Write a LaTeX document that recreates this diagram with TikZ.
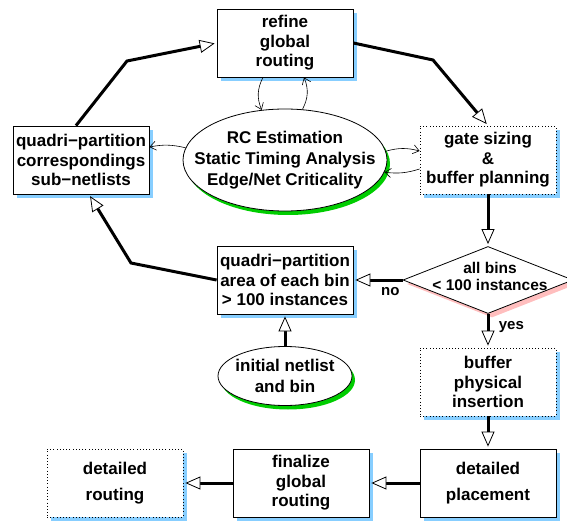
\documentclass[tikz,border=0pt]{standalone}
\usepackage{fontspec}
\setmainfont{Liberation Sans}
\usetikzlibrary{arrows.meta,shapes.geometric,shadows}

\definecolor{shadowblue}{RGB}{135,206,255}
\definecolor{shadowgreen}{RGB}{0,205,0}
\definecolor{shadowpink}{RGB}{255,190,190}

\begin{document}
\begin{tikzpicture}[x=1pt, y=1pt, node distance=117pt,
    box/.style={draw, line width=0.8pt, fill=white, align=center, inner sep=2pt,
        minimum width=136pt, minimum height=68pt,
        font=\fontsize{17}{19.5}\selectfont\bfseries,
        general shadow={fill=shadowblue, shadow xshift=4pt, shadow yshift=-4pt}},
    dotbox/.style={box, dash pattern=on 0.8pt off 2.4pt},
    oval/.style={ellipse, draw, line width=0.8pt, fill=white, align=center, inner sep=0pt,
        font=\fontsize{17}{21}\selectfont\bfseries,
        general shadow={fill=shadowgreen, shadow xshift=3pt, shadow yshift=-4pt}},
    test/.style={diamond, draw, line width=0.8pt, fill=white, inner sep=0pt,
        minimum width=170pt, minimum height=67pt,
        general shadow={fill=shadowpink, shadow xshift=4pt, shadow yshift=-4pt}},
    flow/.style={line width=3pt, shorten >=2pt,
        -{Triangle[fill=white, line width=0.8pt, length=15pt, width=13pt]}},
    link/.style={line width=0.6pt, -{Straight Barb[length=6pt, width=9pt]}},
    answer/.style={font=\fontsize{15}{17}\selectfont\bfseries}]

    \useasboundingbox (0,0) rectangle (567,-521);

    % Nodes {refine, est, corresp, gate, test, area, initial, buffer, placement, finalize, routing}
    \node [box]             (refine)    at (285,-43)    {refine\\global\\routing};
    \node [oval, minimum width=204pt, minimum height=102pt, inner xsep=-30pt]
                            (est)       [below of=refine, node distance=117pt]
                            {RC Estimation\\Static Timing Analysis\\Edge/Net Criticality};
    \node [box]             (corresp)   [left of=est, node distance=204pt]
                            {quadri−partition\\correspondings\\sub−netlists};
    \node [dotbox]          (gate)      [right of=est, node distance=203pt]
                            {gate sizing\\\&\\buffer planning};
    \node [test]            (test)      [below of=gate, node distance=120pt] {};
    \node [font=\fontsize{15.5}{17}\selectfont\bfseries, align=center]
                            (testtext)  at ([xshift=2pt, yshift=4pt]test.center)
                            {all bins\\< 100 instances};
    \node [box]             (area)      [below of=est, node distance=120pt]
                            {quadri−partition\\area of each bin\\> 100 instances};
    \node [oval, minimum width=134pt, minimum height=59pt, inner xsep=-6pt]
                            (initial)   [below of=area, node distance=96pt]
                            {initial netlist\\and bin};
    \node [dotbox]          (buffer)    [below of=test, node distance=102pt]
                            {buffer\\physical\\insertion};
    \node [box]             (placement) [below of=buffer, node distance=101pt]
                            {detailed\\[6pt]placement};
    \node [box]             (finalize)  [left of=placement, node distance=187pt]
                            {finalize\\global\\routing};
    \node [dotbox]          (routing)   [left of=finalize, node distance=186pt]
                            {detailed\\[6pt]routing};

    % Main flow
    \draw [flow] ([xshift=-5pt]corresp.north) -- (127,-61) -- (refine.west);
    \draw [flow] (refine.east) -- (433,-60) -- (gate.north);
    \draw [flow] (area.west) -- (131,-263) -- ([xshift=8pt]corresp.south);
    \path [flow] (gate)      edge                          (test.north);
    \path [flow] (test.west) edge node [answer, below=3pt, pos=0.25] {no}  (area);
    \path [flow] (test.south) edge node [answer, right=6pt, pos=0.4] {yes} (buffer);
    \path [flow] (initial)   edge                          (area);
    \path [flow] (buffer)    edge                          (placement);
    \path [flow] (placement) edge                          (finalize);
    \path [flow] (finalize)  edge                          (routing);

    % Estimation links
    \path [link] ([xshift=-22pt]refine.south) edge [bend right=25] (est.115);
    \path [link] (est.71)    edge [bend right=25]  ([xshift=19pt]refine.south);
    \path [link] (est.173)   edge [bend right=12]  ([yshift=13pt]corresp.east);
    \path [link] (est.5)     edge [bend left=15]   ([yshift=9pt]gate.west);
    \path [link] ([yshift=-9pt]gate.west) edge [bend left=12] (est.353);

\end{tikzpicture}
\end{document}
